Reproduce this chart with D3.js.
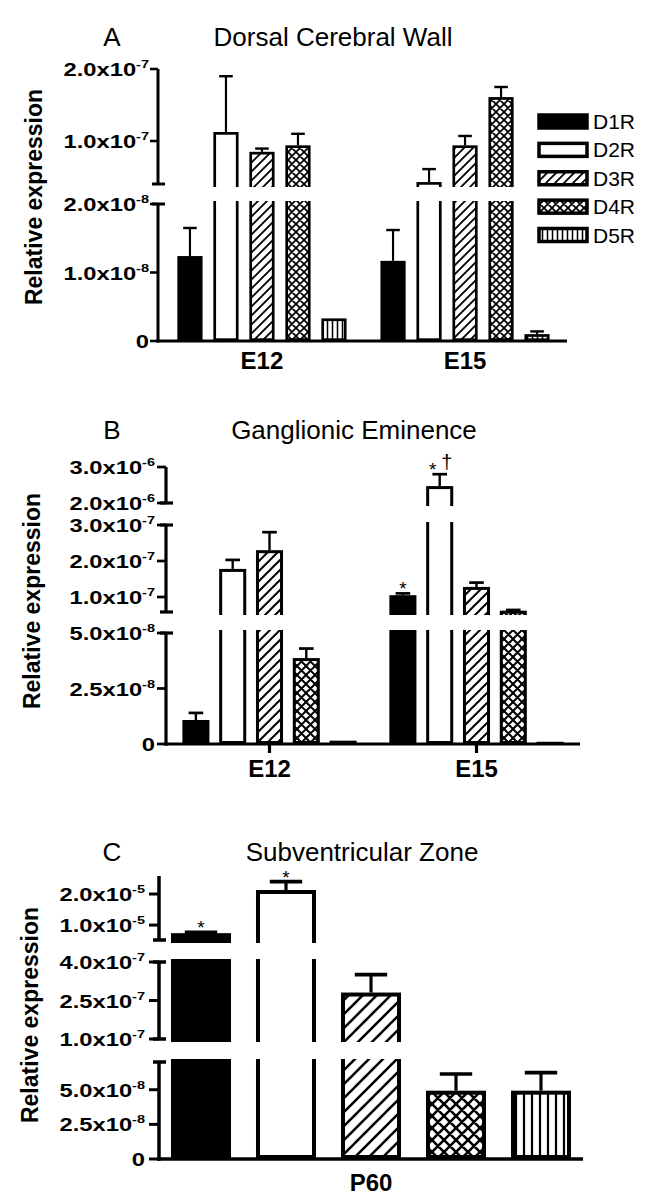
<!DOCTYPE html>
<html><head><meta charset="utf-8">
<script src="https://cdn.jsdelivr.net/npm/d3@7"></script>
<style>
body{margin:0;background:#fff;}
svg{display:block;}
text{font-family:"Liberation Sans",Arial,Helvetica,sans-serif;fill:#000;}
</style></head><body>
<script>
// ---------------- DATA ----------------
const series = ["D1R","D2R","D3R","D4R","D5R"];

// Panel A: Dorsal Cerebral Wall
const dcwGroups = ["E12","E15"];
const dcwD1R = [1.24e-8, 1.17e-8];   const dcwD1Rerr = [4.1e-9, 4.5e-9];
const dcwD2R = [1.125e-7, 4.3e-8];   const dcwD2Rerr = [7.75e-8, 1.8e-8];
const dcwD3R = [8.5e-8, 9.4e-8];     const dcwD3Rerr = [4.5e-9, 1.3e-8];
const dcwD4R = [9.4e-8, 1.61e-7];    const dcwD4Rerr = [1.6e-8, 1.4e-8];
const dcwD5R = [3.3e-9, 1.0e-9];     const dcwD5Rerr = [0, 4e-10];
const dcwBreaks = [[0, 2e-8], [4.03e-8, 2e-7]];
const dcwTicks = [0, 1e-8, 2e-8, 1e-7, 2e-7];
const dcwTickLabels = ["0","1.0x10^-8","2.0x10^-8","1.0x10^-7","2.0x10^-7"];

// Panel B: Ganglionic Eminence
const geGroups = ["E12","E15"];
const geD1R = [1.08e-8, 1.05e-7];    const geD1Rerr = [3.2e-9, 5e-9];
const geD2R = [1.78e-7, 2.47e-6];    const geD2Rerr = [2.5e-8, 3.3e-7];
const geD3R = [2.3e-7, 1.28e-7];     const geD3Rerr = [5e-8, 1.2e-8];
const geD4R = [3.87e-8, 6.2e-8];     const geD4Rerr = [4.3e-9, 2e-9];
const geD5R = [1.5e-9, 1.0e-9];      const geD5Rerr = [0, 0];
const geBreaks = [[0, 5e-8], [5.83e-8, 3e-7], [2e-6, 3e-6]];
const geTicks = [0, 2.5e-8, 5e-8, 1e-7, 2e-7, 3e-7, 2e-6, 3e-6];
const geTickLabels = ["0","2.5x10^-8","5.0x10^-8","1.0x10^-7","2.0x10^-7","3.0x10^-7","2.0x10^-6","3.0x10^-6"];
const geMarks = [["E15","D1R","*"],["E15","D2R","*"],["E15","D2R","\u2020"]];

// Panel C: Subventricular Zone
const svzGroups = ["P60"];
const svzMean = [7.4e-6, 2.13e-5, 2.81e-7, 4.93e-8, 4.93e-8];
const svzErr  = [3e-7, 2.7e-6, 7e-8, 1.2e-8, 1.3e-8];
const svzBreaks = [[0, 7e-8], [1e-7, 4e-7], [5.2e-6, 2.58e-5]];
const svzTicks = [0, 2.5e-8, 5e-8, 1e-7, 2.5e-7, 4e-7, 1e-5, 2e-5];
const svzTickLabels = ["0","2.5x10^-8","5.0x10^-8","1.0x10^-7","2.5x10^-7","4.0x10^-7","1.0x10^-5","2.0x10^-5"];
const svzMarks = [["P60","D1R","*"],["P60","D2R","*"]];

// ---------------- RENDER ----------------
const W = 658, H = 1201;
const svg = d3.select("body").append("svg").attr("width", W).attr("height", H);
const defs = svg.append("defs");

function makePatterns(pid, hs, cs, vs, lw){
  const h = defs.append("pattern").attr("id", `hatch-${pid}`).attr("patternUnits","userSpaceOnUse")
    .attr("width", hs).attr("height", hs);
  h.append("rect").attr("width", hs).attr("height", hs).attr("fill", "#fff");
  h.append("path").attr("d", `M-2,2 l4,-4 M0,${hs} l${hs},${-hs} M${hs-2},${hs+2} l4,-4`)
    .attr("stroke", "#000").attr("stroke-width", lw);
  const c = defs.append("pattern").attr("id", `cross-${pid}`).attr("patternUnits","userSpaceOnUse")
    .attr("width", cs).attr("height", cs);
  c.append("rect").attr("width", cs).attr("height", cs).attr("fill", "#fff");
  c.append("path").attr("d",
    `M0,0 l${cs},${cs} M-2,${cs-2} l4,4 M${cs-2},-2 l4,4 M0,${cs} l${cs},${-cs} M-2,2 l4,-4 M${cs-2},${cs+2} l4,-4`)
    .attr("stroke", "#000").attr("stroke-width", lw);
  const v = defs.append("pattern").attr("id", `vert-${pid}`).attr("patternUnits","userSpaceOnUse")
    .attr("width", vs).attr("height", 10);
  v.append("rect").attr("width", vs).attr("height", 10).attr("fill", "#fff");
  v.append("line").attr("x1", vs/2).attr("x2", vs/2).attr("y1", 0).attr("y2", 10)
    .attr("stroke", "#000").attr("stroke-width", lw*0.85);
}
function fillFor(pid, s){
  return {D1R:"#000", D2R:"#fff", D3R:`url(#hatch-${pid})`, D4R:`url(#cross-${pid})`, D5R:`url(#vert-${pid})`}[s];
}

const panels = [
  {id:"A", letter:"A", title:"Dorsal Cerebral Wall", titleX:333, titleY:46, letterX:112,
   groups:dcwGroups,
   vals:[dcwD1R,dcwD2R,dcwD3R,dcwD4R,dcwD5R], errs:[dcwD1Rerr,dcwD2Rerr,dcwD3Rerr,dcwD4Rerr,dcwD5Rerr],
   breaks:dcwBreaks, segPx:[[341,204],[184,69]], ticks:dcwTicks, tickLabels:dcwTickLabels,
   axisX:158, xEnd:567, xRange:[159,568], groupPad:0.507, half:90, pi:0.3,
   sw:2.7, aw:3, tickLen:8, labelGap:1, ylabX:42, ylabY:197, xlabY:369, xTicks:false,
   pat:[9,8,5,1.8], marks:[]},
  {id:"B", letter:"B", title:"Ganglionic Eminence", titleX:354, titleY:439, letterX:112,
   groups:geGroups,
   vals:[geD1R,geD2R,geD3R,geD4R,geD5R], errs:[geD1Rerr,geD2Rerr,geD3Rerr,geD4Rerr,geD5Rerr],
   breaks:geBreaks, segPx:[[744,633],[612,525],[503,467]], ticks:geTicks, tickLabels:geTickLabels,
   axisX:166, xEnd:580, xRange:[166,580], groupPad:0.5, half:92, pi:0.265,
   sw:3, aw:3.2, tickLen:9, labelGap:2, ylabX:40, ylabY:601, xlabY:777, xTicks:true,
   pat:[10,9,5.5,2], marks:geMarks},
  {id:"C", letter:"C", title:"Subventricular Zone", titleX:362, titleY:861, letterX:112,
   groups:svzGroups,
   vals:svzMean.map(v=>[v]), errs:svzErr.map(e=>[e]),
   breaks:svzBreaks, segPx:[[1159,1062],[1039,962],[940,876]], ticks:svzTicks, tickLabels:svzTickLabels,
   axisX:159, xEnd:583, xRange:[159,583], groupPad:0.5, half:212.5, pi:0.294,
   sw:4, aw:3.5, tickLen:10, labelGap:4, ylabX:38, ylabY:1015, xlabY:1191, xTicks:false,
   pat:[14,12,8,2.6], marks:svzMarks}
];

function drawPanel(P){
  makePatterns(P.id, ...P.pat);
  const g = svg.append("g");
  const segs = P.breaks.map((dom,i)=>({dom, bot:P.segPx[i][0], top:P.segPx[i][1],
    y:d3.scaleLinear().domain(dom).range(P.segPx[i])}));
  const base = segs[0].bot;
  const xg = d3.scalePoint().domain(P.groups).range(P.xRange).padding(P.groupPad);
  const xs = d3.scaleBand().domain(series).range([-P.half, P.half]).paddingInner(P.pi).paddingOuter(P.pi/2);
  const bw = xs.bandwidth();
  const segFor = v => segs.filter(s => v >= s.dom[0] - 1e-15).pop();

  // bars, clipped per axis segment
  segs.forEach((s,i)=>{
    const cid = `clip-${P.id}-${i}`;
    const pad = 3;
    const y0 = s.top - pad, y1 = (i===0) ? base + P.sw : s.bot + pad;
    defs.append("clipPath").attr("id", cid).append("rect")
      .attr("x", 0).attr("y", y0).attr("width", W).attr("height", y1 - y0);
    const cg = g.append("g").attr("clip-path", `url(#${cid})`);
    P.groups.forEach((gr,gi)=>{
      series.forEach((se,si)=>{
        const v = P.vals[si][gi];
        if (v < s.dom[0]) return;
        const x = xg(gr) + xs(se);
        const yt = s.y(v), yb = s.y(0);
        cg.append("rect")
          .attr("x", x + P.sw/2).attr("y", yt + P.sw/2)
          .attr("width", bw - P.sw).attr("height", Math.max(0.2, yb - yt - P.sw))
          .attr("fill", fillFor(P.id, se)).attr("stroke", "#000").attr("stroke-width", P.sw);
      });
    });
  });

  // error bars
  P.groups.forEach((gr,gi)=>{
    series.forEach((se,si)=>{
      const v = P.vals[si][gi], e = P.errs[si][gi];
      if (!e) return;
      const s = segFor(v + e);
      const cx = xg(gr) + xs(se) + bw/2;
      const ytop = s.y(v + e), yv = s.y(v);
      g.append("line").attr("x1", cx).attr("x2", cx).attr("y1", yv).attr("y2", ytop)
        .attr("stroke", "#000").attr("stroke-width", P.sw*0.8);
      g.append("line").attr("x1", cx - bw*0.27).attr("x2", cx + bw*0.27).attr("y1", ytop).attr("y2", ytop)
        .attr("stroke", "#000").attr("stroke-width", P.sw*0.9);
    });
  });

  // significance marks
  const markGroups = d3.group(P.marks, d => d[0] + "|" + d[1]);
  markGroups.forEach((arr)=>{
    arr.forEach((m,k)=>{
      const gi = P.groups.indexOf(m[0]), si = series.indexOf(m[1]);
      const v = P.vals[si][gi], e = P.errs[si][gi];
      const s = segFor(v + e);
      const cx = xg(m[0]) + xs(m[1]) + bw/2 + (arr.length > 1 ? (k === 0 ? -7 : 7) : 0);
      const yTop = s.y(v + e);
      g.append("text").attr("x", cx).attr("y", m[2] === "*" ? yTop + 2 : yTop - 5)
        .attr("text-anchor", "middle").attr("font-size", m[2] === "*" ? 19 : 20).text(m[2]);
    });
  });

  // y axis segments
  segs.forEach((s,i)=>{
    g.append("line").attr("x1", P.axisX).attr("x2", P.axisX)
      .attr("y1", s.top).attr("y2", i===0 ? base + P.aw/2 : s.bot)
      .attr("stroke", "#000").attr("stroke-width", P.aw);
    if (i > 0) g.append("line").attr("x1", P.axisX - 6).attr("x2", P.axisX + 7)
      .attr("y1", s.bot).attr("y2", s.bot).attr("stroke", "#000").attr("stroke-width", P.aw);
    if (i < segs.length - 1) g.append("line").attr("x1", P.axisX - 6).attr("x2", P.axisX + 7)
      .attr("y1", s.top).attr("y2", s.top).attr("stroke", "#000").attr("stroke-width", P.aw);
  });
  // ticks and labels
  P.ticks.forEach((t,ti)=>{
    const s = segs.find(sg => t >= sg.dom[0] - 1e-15 && t <= sg.dom[1] + 1e-15);
    const y = s.y(t);
    g.append("line").attr("x1", P.axisX - P.tickLen).attr("x2", P.axisX).attr("y1", y).attr("y2", y)
      .attr("stroke", "#000").attr("stroke-width", P.aw*0.85);
    const parts = P.tickLabels[ti].split("^");
    const tg = g.append("g").attr("transform",
      `translate(${P.axisX - P.tickLen - P.labelGap},${y + 7}) scale(1.32,1)`);
    const tx = tg.append("text").attr("text-anchor", "end").attr("font-weight", "bold").attr("font-size", 18);
    tx.append("tspan").text(parts[0]);
    if (parts[1]) tx.append("tspan").attr("font-size", 11).attr("dy", -8).text(parts[1]);
  });

  // x axis
  g.append("line").attr("x1", P.axisX - P.aw/2).attr("x2", P.xEnd).attr("y1", base).attr("y2", base)
    .attr("stroke", "#000").attr("stroke-width", P.aw);
  P.groups.forEach(gr=>{
    if (P.xTicks) g.append("line").attr("x1", xg(gr)).attr("x2", xg(gr)).attr("y1", base).attr("y2", base + 9)
      .attr("stroke", "#000").attr("stroke-width", P.aw);
    g.append("text").attr("x", xg(gr)).attr("y", P.xlabY).attr("text-anchor", "middle")
      .attr("font-weight", "bold").attr("font-size", 24).text(gr);
  });

  // y label
  g.append("text").attr("transform", `translate(${P.ylabX},${P.ylabY}) rotate(-90)`)
    .attr("text-anchor", "middle").attr("font-weight", "bold").attr("font-size", 23)
    .text("Relative expression");

  // titles
  g.append("text").attr("x", P.letterX).attr("y", P.titleY).attr("text-anchor", "middle")
    .attr("font-size", 26).text(P.letter);
  g.append("text").attr("x", P.titleX).attr("y", P.titleY).attr("text-anchor", "middle")
    .attr("font-size", 26).text(P.title);
}

panels.forEach(drawPanel);

// legend (panel A)
const leg = svg.append("g");
const legY = d3.scalePoint().domain(series).range([121.5, 235]);
series.forEach(se=>{
  const y = legY(se);
  leg.append("rect").attr("x", 539).attr("y", y - 6.5).attr("width", 48).attr("height", 13)
    .attr("fill", fillFor("A", se)).attr("stroke", "#000").attr("stroke-width", 3.5);
  leg.append("text").attr("x", 593).attr("y", y + 7.5).attr("font-size", 21).text(se);
});
</script>
</body></html>
